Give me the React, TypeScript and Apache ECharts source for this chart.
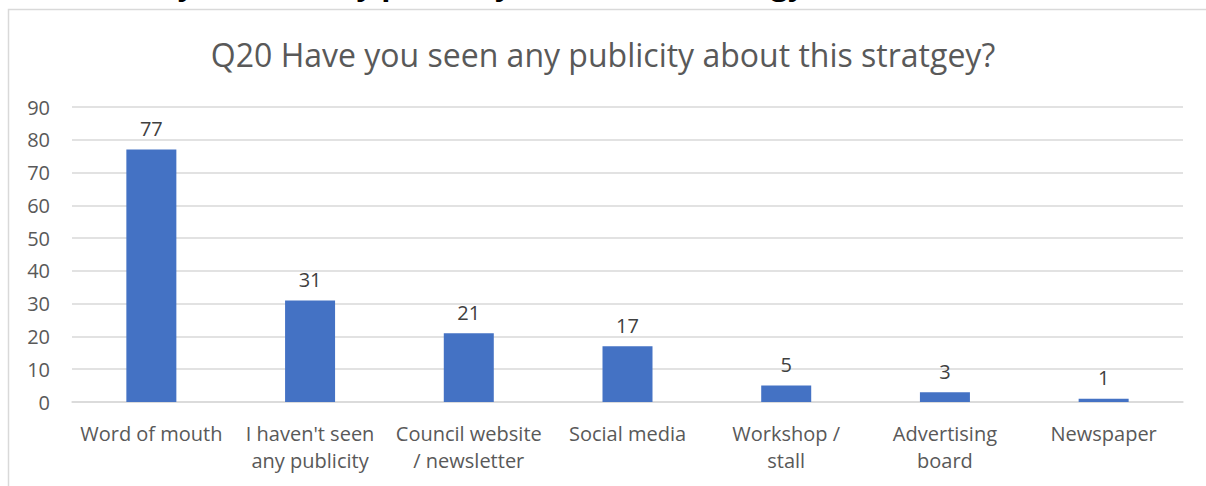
import React, { useEffect, useRef } from "react";
import * as echarts from "echarts";

const categories = [
  "Word of mouth",
  "I haven't seen\nany publicity",
  "Council website\n/ newsletter",
  "Social media",
  "Workshop /\nstall",
  "Advertising\nboard",
  "Newspaper",
];
const values = [77, 31, 21, 17, 5, 3, 1];
const yTicks = { min: 0, max: 90, interval: 10 };
const chartTitle = "Q20 Have you seen any publicity about this stratgey?";
const headingText = "Q20 Have you seen any publicity about this strategy?";

export default function App() {
  const ref = useRef<HTMLDivElement>(null);
  useEffect(() => {
    if (!ref.current) return;
    const chart = echarts.init(ref.current, undefined, { renderer: "svg" });
    const font = "'Open Sans', 'Noto Sans', sans-serif";
    chart.setOption({
      animation: false,
      backgroundColor: "#ffffff",
      textStyle: { fontFamily: font },
      graphic: [
        {
          type: "rect",
          shape: { x: 8.5, y: 9.5, width: 1300, height: 600 },
          style: { fill: "#ffffff", stroke: "#d9d9d9", lineWidth: 1.5 },
          silent: true,
        },
        {
          type: "text",
          x: 28,
          y: -2,
          style: {
            text: headingText,
            font: "bold 30px 'Open Sans', sans-serif",
            fill: "#000000",
            verticalAlign: "bottom",
            align: "left",
          },
        },
      ],
      title: {
        text: chartTitle,
        left: "center",
        top: 33,
        textStyle: {
          fontFamily: font,
          fontSize: 32,
          fontWeight: "normal",
          color: "#595959",
        },
      },
      grid: { left: 72, right: 23, top: 107, bottom: 84, containLabel: false },
      xAxis: {
        type: "category",
        data: categories,
        axisLine: { lineStyle: { color: "#d9d9d9", width: 1.5 } },
        axisTick: { show: false },
        axisLabel: {
          color: "#595959",
          fontSize: 20,
          fontFamily: font,
          margin: 18,
          lineHeight: 27,
          interval: 0,
        },
      },
      yAxis: {
        type: "value",
        min: yTicks.min,
        max: yTicks.max,
        interval: yTicks.interval,
        axisLine: { show: false },
        axisTick: { show: false },
        splitLine: { lineStyle: { color: "#d9d9d9", width: 1.5 } },
        axisLabel: { color: "#595959", fontSize: 20, fontFamily: font, margin: 22 },
      },
      series: [
        {
          type: "bar",
          data: values,
          barWidth: 50,
          itemStyle: { color: "#4472C4" },
          label: {
            show: true,
            position: "top",
            distance: 11,
            color: "#404040",
            fontSize: 20,
            fontFamily: font,
          },
        },
      ],
    });
    return () => chart.dispose();
  }, []);
  return (
    <div
      ref={ref}
      style={{ position: "absolute", left: 0, top: 0, width: 1206, height: 486 }}
    />
  );
}
